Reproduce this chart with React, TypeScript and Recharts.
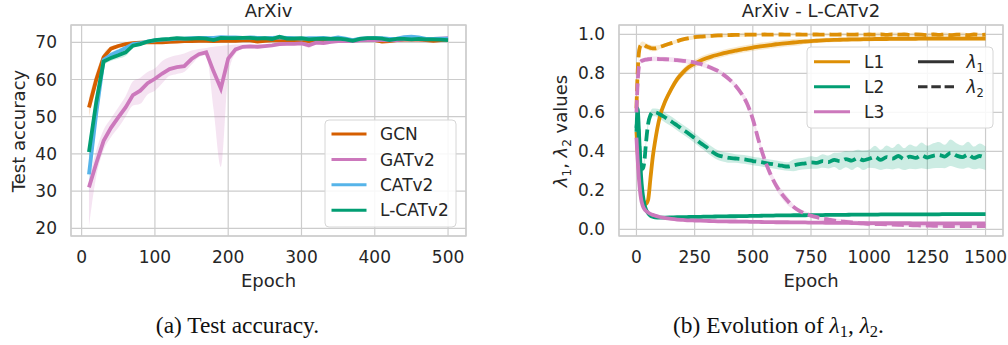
import React from "react"
import {
  ComposedChart,
  Line,
  Area,
  XAxis,
  YAxis,
  CartesianGrid,
  ReferenceArea,
} from "recharts"

// ---- (a) test accuracy, ArXiv ----
const accEpochs = [
  10, 20, 30, 40, 50, 60, 70, 80, 90, 100, 110, 120, 130, 140, 150, 160, 170, 180, 190, 200,
  210, 220, 230, 240, 250, 260, 270, 280, 290, 300, 310, 320, 330, 340, 350, 360, 370, 380, 390, 400,
  410, 420, 430, 440, 450, 460, 470, 480, 490, 500,
]
const gcnAcc = [
  52.5, 60, 66, 68.3, 69, 69.5, 69.8, 69.9, 70, 70,
  70, 70.1, 70.2, 70.3, 70.3, 70.4, 70.4, 70.3, 70.4, 70.4,
  70.4, 70.5, 70.5, 70.2, 70.4, 70.5, 70.6, 70.5, 70.6, 70.6,
  70.3, 70.5, 70.6, 70.6, 70.7, 70.6, 70.5, 70.7, 70.7, 70.6,
  70.2, 70.3, 70.6, 70.7, 70.8, 70.7, 70.6, 70.4, 70.6, 70.7,
]
const gcnSpread = [
  2.5, 2, 1, 0.6, 0.5, 0.4, 0.35, 0.3, 0.3, 0.3,
  0.3, 0.3, 0.3, 0.3, 0.3, 0.3, 0.3, 0.3, 0.3, 0.3,
  0.3, 0.3, 0.3, 0.3, 0.3, 0.3, 0.3, 0.3, 0.3, 0.3,
  0.3, 0.3, 0.3, 0.3, 0.3, 0.3, 0.3, 0.3, 0.3, 0.3,
  0.3, 0.3, 0.3, 0.3, 0.3, 0.3, 0.3, 0.3, 0.3, 0.3,
]
const gatAcc = [
  31, 37.5, 43.5, 47, 49.8, 52.5, 55.8, 57, 59, 60.2,
  61.6, 62.8, 63.3, 63.6, 65.5, 66.8, 67.3, 62.2, 57.6, 65.6,
  68.1, 68.8, 68.9, 68.8, 69.0, 69.2, 69.5, 69.6, 69.6, 69.7,
  69.2, 69.9, 69.8, 70.1, 70.3, 70.3, 70.3, 70.5, 70.6, 70.6,
  70.6, 70.5, 70.6, 70.8, 70.8, 70.8, 70.8, 70.9, 71.0, 71.1,
]
const gatLow = [
  20.5, 34, 41, 44.5, 47, 50, 53, 53.5, 56, 57,
  59, 61, 61.5, 62, 64, 66, 66.5, 52, 36.5, 61,
  67, 68.2, 68.4, 68.3, 68.6, 68.8, 69.1, 69.2, 69.2, 69.3,
  68.5, 69.5, 69.3, 69.7, 69.9, 69.9, 69.9, 70.1, 70.2, 70.2,
  70.2, 70.1, 70.2, 70.4, 70.4, 70.4, 70.4, 70.5, 70.6, 70.7,
]
const gatHigh = [
  33, 41, 46.5, 49.5, 52.5, 55.5, 59.5, 60.5, 62, 63,
  65, 66, 66.5, 67, 67.8, 68.2, 68.5, 68.8, 69, 69.2,
  69.4, 69.4, 69.4, 69.3, 69.4, 69.6, 69.9, 70, 70, 70.1,
  69.9, 70.3, 70.3, 70.5, 70.7, 70.7, 70.7, 70.9, 71, 71,
  71, 70.9, 71, 71.2, 71.2, 71.2, 71.2, 71.3, 71.4, 71.5,
]
const catAcc = [
  34.5, 51, 65.3, 66.6, 67.5, 68.5, 69.5, 69.8, 70.2, 70.5,
  70.7, 70.8, 71.0, 71.0, 71.1, 71.2, 71.2, 71.2, 71.4, 71.3,
  71.3, 71.2, 71.3, 71.2, 71.1, 71.2, 71.3, 71.2, 71.1, 71.0,
  71.1, 71.1, 71.2, 71.0, 71.3, 71.0, 70.6, 71.0, 71.1, 71.2,
  71.1, 70.9, 71.0, 71.4, 71.5, 71.3, 70.9, 70.9, 71.0, 71.0,
]
const catSpread = [
  5, 3, 1, 0.8, 0.7, 0.6, 0.5, 0.4, 0.3, 0.3,
  0.3, 0.3, 0.3, 0.3, 0.3, 0.3, 0.3, 0.3, 0.3, 0.3,
  0.3, 0.3, 0.3, 0.3, 0.3, 0.3, 0.3, 0.3, 0.3, 0.3,
  0.3, 0.3, 0.3, 0.3, 0.3, 0.3, 0.4, 0.3, 0.3, 0.3,
  0.3, 0.3, 0.3, 0.3, 0.3, 0.3, 0.3, 0.3, 0.3, 0.3,
]
const lcatAcc = [
  40.5, 54, 64.8, 65.8, 66.5, 67.3, 69.1, 69.5, 70.2, 70.6,
  70.8, 70.9, 71.1, 71.0, 71.0, 71.1, 71.0, 70.6, 71.2, 71.1,
  71.1, 71.2, 71.2, 71.0, 71.1, 70.9, 71.5, 71.0, 71.0, 71.1,
  70.8, 70.9, 71.0, 70.9, 71.0, 70.8, 70.4, 70.9, 71.1, 71.1,
  71.0, 70.6, 70.9, 70.9, 70.8, 70.9, 70.8, 70.8, 70.7, 70.6,
]
const lcatSpread = [
  3, 2, 1, 0.8, 0.9, 1, 0.6, 0.4, 0.3, 0.3,
  0.3, 0.3, 0.3, 0.3, 0.3, 0.3, 0.3, 0.3, 0.3, 0.3,
  0.3, 0.3, 0.3, 0.3, 0.3, 0.3, 0.3, 0.3, 0.3, 0.3,
  0.3, 0.3, 0.3, 0.3, 0.3, 0.3, 0.4, 0.3, 0.3, 0.3,
  0.3, 0.3, 0.3, 0.3, 0.3, 0.3, 0.3, 0.3, 0.3, 0.3,
]
const accXTicks = [0, 100, 200, 300, 400, 500]
const accYTicks = [20, 30, 40, 50, 60, 70]

// ---- (b) lambda evolution, L-CATv2 ----
const lamEpochs = [
  0, 5, 10, 15, 20, 25, 30, 35, 40, 50, 60, 70, 80,
  100, 125, 150, 175, 200, 225, 250, 275, 300, 325, 350, 375, 400, 425, 450, 475, 500,
  525, 550, 575, 600, 625, 650, 675, 700, 725, 750, 775, 800, 825, 850, 875, 900, 925, 950, 975, 1000,
  1025, 1050, 1075, 1100, 1125, 1150, 1175, 1200, 1225, 1250, 1275, 1300, 1325, 1350, 1375, 1400, 1425, 1450, 1475, 1500,
]
const l1Lam1 = [
  0.5, 0.4, 0.31, 0.24, 0.19, 0.16, 0.145, 0.135, 0.13, 0.15, 0.26, 0.37, 0.45,
  0.575, 0.66, 0.72, 0.77, 0.805, 0.832, 0.85, 0.865, 0.877, 0.887, 0.895, 0.903, 0.91, 0.916, 0.922, 0.927, 0.932,
  0.937, 0.941, 0.945, 0.949, 0.952, 0.955, 0.958, 0.961, 0.963, 0.965, 0.967, 0.969, 0.97, 0.971, 0.972, 0.973, 0.974, 0.974, 0.975, 0.975,
  0.976, 0.976, 0.976, 0.977, 0.977, 0.977, 0.977, 0.977, 0.978, 0.978, 0.978, 0.978, 0.978, 0.978, 0.978, 0.978, 0.978, 0.978, 0.978, 0.978,
]
const l1Lam1Spread = [
  0.01, 0.01, 0.01, 0.01, 0.01, 0.01, 0.01, 0.01, 0.01, 0.012, 0.015, 0.018, 0.02,
  0.02, 0.02, 0.02, 0.02, 0.02, 0.02, 0.02, 0.02, 0.02, 0.018, 0.018, 0.018, 0.018, 0.018, 0.018, 0.018, 0.018,
  0.018, 0.018, 0.018, 0.018, 0.018, 0.018, 0.018, 0.018, 0.012, 0.012, 0.012, 0.012, 0.012, 0.012, 0.012, 0.012, 0.012, 0.012, 0.012, 0.012,
  0.01, 0.01, 0.01, 0.01, 0.01, 0.01, 0.01, 0.01, 0.01, 0.01, 0.01, 0.01, 0.01, 0.01, 0.01, 0.01, 0.01, 0.01, 0.01, 0.01,
]
const l1Lam2 = [
  0.62, 0.8, 0.9, 0.935, 0.945, 0.948, 0.947, 0.944, 0.94, 0.935, 0.93, 0.928, 0.928,
  0.935, 0.945, 0.955, 0.965, 0.974, 0.98, 0.985, 0.988, 0.99, 0.992, 0.994, 0.995, 0.996, 0.997, 0.997, 0.998, 0.998,
  0.998, 0.999, 0.998, 0.999, 0.999, 0.998, 0.999, 0.999, 0.998, 0.999, 0.999, 0.998, 0.999, 0.998, 0.999, 0.999, 0.998, 0.999, 0.998, 0.999,
  0.998, 0.999, 0.997, 0.999, 0.998, 0.999, 0.997, 0.999, 0.998, 0.996, 0.999, 0.997, 0.999, 0.996, 0.998, 0.999, 0.996, 0.999, 0.997, 0.998,
]
const l1Lam2Spread = [
  0.015, 0.015, 0.015, 0.015, 0.015, 0.015, 0.015, 0.015, 0.015, 0.015, 0.015, 0.015, 0.015,
  0.01, 0.01, 0.01, 0.01, 0.01, 0.01, 0.01, 0.01, 0.01, 0.01, 0.01, 0.01, 0.01, 0.01, 0.01, 0.01, 0.01,
  0.006, 0.006, 0.006, 0.006, 0.006, 0.006, 0.006, 0.006, 0.006, 0.006, 0.006, 0.006, 0.006, 0.006, 0.006, 0.006, 0.006, 0.006, 0.006, 0.006,
  0.01, 0.01, 0.01, 0.01, 0.01, 0.01, 0.01, 0.01, 0.01, 0.01, 0.01, 0.01, 0.01, 0.01, 0.01, 0.01, 0.01, 0.01, 0.01, 0.01,
]
const l2Lam1 = [
  0.5, 0.62, 0.52, 0.38, 0.27, 0.2, 0.155, 0.125, 0.105, 0.082, 0.07, 0.064, 0.061,
  0.06, 0.06, 0.061, 0.062, 0.062, 0.063, 0.064, 0.064, 0.065, 0.065, 0.066, 0.066, 0.067, 0.067, 0.068, 0.068, 0.069,
  0.069, 0.07, 0.07, 0.071, 0.071, 0.071, 0.072, 0.072, 0.072, 0.073, 0.073, 0.073, 0.074, 0.074, 0.074, 0.074, 0.075, 0.075, 0.075, 0.075,
  0.075, 0.076, 0.076, 0.076, 0.076, 0.076, 0.077, 0.077, 0.077, 0.077, 0.077, 0.077, 0.078, 0.078, 0.078, 0.078, 0.078, 0.078, 0.078, 0.078,
]
const l2Lam2 = [
  0.52, 0.56, 0.47, 0.38, 0.33, 0.31, 0.32, 0.36, 0.43, 0.54, 0.585, 0.6, 0.6,
  0.59, 0.572, 0.553, 0.532, 0.511, 0.49, 0.467, 0.443, 0.422, 0.398, 0.38, 0.372, 0.366, 0.363, 0.36, 0.356, 0.35,
  0.346, 0.341, 0.336, 0.331, 0.326, 0.322, 0.328, 0.334, 0.338, 0.343, 0.341, 0.35, 0.345, 0.356, 0.349, 0.36, 0.352, 0.364, 0.354, 0.362,
  0.371, 0.356, 0.37, 0.362, 0.376, 0.36, 0.373, 0.366, 0.379, 0.368, 0.377, 0.381, 0.373, 0.392, 0.378, 0.37, 0.383, 0.366, 0.376, 0.364,
]
const l2Lam2Spread = [
  0.02, 0.02, 0.02, 0.02, 0.02, 0.02, 0.02, 0.02, 0.02, 0.02, 0.02, 0.02, 0.02,
  0.025, 0.025, 0.025, 0.025, 0.025, 0.025, 0.025, 0.025, 0.025, 0.025, 0.025, 0.025, 0.025, 0.022, 0.022, 0.022, 0.022,
  0.022, 0.022, 0.022, 0.022, 0.022, 0.022, 0.03, 0.03, 0.03, 0.032, 0.03, 0.035, 0.033, 0.036, 0.045, 0.042, 0.048, 0.044, 0.05, 0.046,
  0.058, 0.052, 0.06, 0.055, 0.063, 0.056, 0.062, 0.058, 0.066, 0.06, 0.064, 0.067, 0.06, 0.068, 0.063, 0.06, 0.066, 0.058, 0.064, 0.06,
]
const l3Lam1 = [
  0.47, 0.36, 0.27, 0.2, 0.155, 0.128, 0.112, 0.102, 0.095, 0.086, 0.079, 0.074, 0.07,
  0.063, 0.057, 0.053, 0.05, 0.048, 0.046, 0.045, 0.044, 0.043, 0.042, 0.041, 0.041, 0.04, 0.04, 0.039, 0.039, 0.038,
  0.038, 0.037, 0.037, 0.036, 0.036, 0.036, 0.035, 0.035, 0.035, 0.034, 0.034, 0.034, 0.033, 0.033, 0.033, 0.033, 0.032, 0.032, 0.032, 0.032,
  0.032, 0.031, 0.031, 0.031, 0.031, 0.031, 0.031, 0.03, 0.03, 0.03, 0.03, 0.03, 0.03, 0.03, 0.03, 0.03, 0.03, 0.03, 0.03, 0.03,
]
const l3Lam2 = [
  0.6, 0.75, 0.83, 0.855, 0.862, 0.865, 0.867, 0.869, 0.87, 0.872, 0.873, 0.874, 0.874,
  0.873, 0.872, 0.87, 0.867, 0.864, 0.86, 0.855, 0.848, 0.838, 0.826, 0.812, 0.792, 0.768, 0.738, 0.698, 0.645, 0.565,
  0.455, 0.36, 0.285, 0.225, 0.18, 0.145, 0.115, 0.095, 0.08, 0.07, 0.062, 0.055, 0.05, 0.045, 0.041, 0.038, 0.035, 0.032, 0.03, 0.028,
  0.027, 0.026, 0.025, 0.024, 0.023, 0.022, 0.021, 0.02, 0.019, 0.019, 0.018, 0.018, 0.017, 0.017, 0.017, 0.017, 0.016, 0.016, 0.016, 0.016,
]
const l3Lam2Spread = [
  0.012, 0.012, 0.012, 0.012, 0.012, 0.012, 0.012, 0.012, 0.012, 0.012, 0.012, 0.012, 0.012,
  0.012, 0.012, 0.012, 0.012, 0.012, 0.012, 0.012, 0.012, 0.012, 0.012, 0.012, 0.012, 0.012, 0.012, 0.012, 0.022, 0.022,
  0.022, 0.022, 0.022, 0.022, 0.022, 0.022, 0.012, 0.012, 0.012, 0.012, 0.012, 0.012, 0.012, 0.012, 0.012, 0.012, 0.012, 0.012, 0.012, 0.012,
  0.008, 0.008, 0.008, 0.008, 0.008, 0.008, 0.008, 0.008, 0.008, 0.008, 0.008, 0.008, 0.008, 0.008, 0.008, 0.008, 0.008, 0.008, 0.008, 0.008,
]
const lamXTicks = [0, 250, 500, 750, 1000, 1250, 1500]
const lamYTicks = [0, 0.2, 0.4, 0.6, 0.8, 1.0]

const COLORS = {
  gcn: "#d55e00",
  gat: "#cc78bc",
  cat: "#56b4e9",
  lcat: "#029e73",
  l1: "#de8f05",
  l2: "#029e73",
  l3: "#cc78bc",
}

const accData = accEpochs.map((epoch, i) => ({
  epoch,
  gcn: gcnAcc[i],
  gcnBand: [gcnAcc[i] - gcnSpread[i], gcnAcc[i] + gcnSpread[i]],
  gat: gatAcc[i],
  gatBand: [gatLow[i], gatHigh[i]],
  cat: catAcc[i],
  catBand: [catAcc[i] - catSpread[i], catAcc[i] + catSpread[i]],
  lcat: lcatAcc[i],
  lcatBand: [lcatAcc[i] - lcatSpread[i], lcatAcc[i] + lcatSpread[i]],
}))

const lamData = lamEpochs.map((epoch, i) => ({
  epoch,
  l1a: l1Lam1[i],
  l1aBand: [l1Lam1[i] - l1Lam1Spread[i], l1Lam1[i] + l1Lam1Spread[i]],
  l1b: l1Lam2[i],
  l1bBand: [l1Lam2[i] - l1Lam2Spread[i], l1Lam2[i] + l1Lam2Spread[i]],
  l2a: l2Lam1[i],
  l2b: l2Lam2[i],
  l2bBand: [l2Lam2[i] - l2Lam2Spread[i], l2Lam2[i] + l2Lam2Spread[i]],
  l3a: l3Lam1[i],
  l3b: l3Lam2[i],
  l3bBand: [l3Lam2[i] - l3Lam2Spread[i], l3Lam2[i] + l3Lam2Spread[i]],
}))

const FONT = "'DejaVu Sans', sans-serif"
const TEXT = "#262626"
const tickStyle = { fill: TEXT, fontSize: 17, fontFamily: FONT }
const DASH = "12 5"
const LW = 3.8

function band(key: string, color: string) {
  return (
    <Area
      dataKey={key}
      type="monotone"
      stroke="none"
      fill={color}
      fillOpacity={0.2}
      dot={false}
      activeDot={false}
      isAnimationActive={false}
    />
  )
}

function line(key: string, color: string, kind: "linear" | "monotone", dashed = false) {
  return (
    <Line
      dataKey={key}
      type={kind}
      stroke={color}
      strokeWidth={LW}
      strokeDasharray={dashed ? DASH : undefined}
      dot={false}
      activeDot={false}
      isAnimationActive={false}
    />
  )
}

function AccuracyChart() {
  return (
    <ComposedChart
      width={504}
      height={290}
      data={accData}
      margin={{ top: 25, right: 38, left: 31, bottom: 24 }}
    >
      <CartesianGrid stroke="#cccccc" strokeWidth={1.2} />
      <XAxis
        type="number"
        dataKey="epoch"
        domain={[-14.5, 524.5]}
        ticks={accXTicks}
        interval={0}
        allowDataOverflow
        axisLine={false}
        tickLine={false}
        tickSize={0}
        tickMargin={15}
        height={30}
        tick={tickStyle}
      />
      <YAxis
        type="number"
        domain={[17.93, 74.65]}
        ticks={accYTicks}
        interval={0}
        allowDataOverflow
        axisLine={false}
        tickLine={false}
        tickSize={0}
        tickMargin={14}
        width={40}
        tick={tickStyle}
      />
      <ReferenceArea x1={-14.5} x2={524.5} y1={17.93} y2={74.65} fill="none" stroke="#cccccc" strokeWidth={1.3} />
      {band("gcnBand", COLORS.gcn)}
      {band("gatBand", COLORS.gat)}
      {band("catBand", COLORS.cat)}
      {band("lcatBand", COLORS.lcat)}
      {line("gcn", COLORS.gcn, "linear")}
      {line("gat", COLORS.gat, "linear")}
      {line("cat", COLORS.cat, "linear")}
      {line("lcat", COLORS.lcat, "linear")}
    </ComposedChart>
  )
}

function LambdaChart() {
  return (
    <ComposedChart
      width={504}
      height={290}
      data={lamData}
      margin={{ top: 25, right: 5, left: 65, bottom: 24 }}
    >
      <CartesianGrid stroke="#cccccc" strokeWidth={1.2} />
      <XAxis
        type="number"
        dataKey="epoch"
        domain={[-75, 1575]}
        ticks={lamXTicks}
        interval={0}
        allowDataOverflow
        axisLine={false}
        tickLine={false}
        tickSize={0}
        tickMargin={15}
        height={30}
        tick={tickStyle}
      />
      <YAxis
        type="number"
        domain={[-0.0344, 1.0477]}
        ticks={lamYTicks}
        interval={0}
        allowDataOverflow
        axisLine={false}
        tickLine={false}
        tickSize={0}
        tickMargin={14}
        width={50}
        tick={tickStyle}
        tickFormatter={(v: number) => v.toFixed(1)}
      />
      <ReferenceArea x1={-75} x2={1575} y1={-0.0344} y2={1.0477} fill="none" stroke="#cccccc" strokeWidth={1.3} />
      {band("l1aBand", COLORS.l1)}
      {band("l1bBand", COLORS.l1)}
      {band("l2bBand", COLORS.l2)}
      {band("l3bBand", COLORS.l3)}
      {line("l1a", COLORS.l1, "monotone")}
      {line("l1b", COLORS.l1, "monotone", true)}
      {line("l2a", COLORS.l2, "monotone")}
      {line("l2b", COLORS.l2, "monotone", true)}
      {line("l3a", COLORS.l3, "monotone")}
      {line("l3b", COLORS.l3, "monotone", true)}
    </ComposedChart>
  )
}

const accLegend = [
  { name: "GCN", color: COLORS.gcn },
  { name: "GATv2", color: COLORS.gat },
  { name: "CATv2", color: COLORS.cat },
  { name: "L-CATv2", color: COLORS.lcat },
]
const layerLegend = [
  { name: "L1", color: COLORS.l1 },
  { name: "L2", color: COLORS.l2 },
  { name: "L3", color: COLORS.l3 },
]

function Overlay() {
  return (
    <svg
      width={1008}
      height={345}
      style={{ position: "absolute", left: 0, top: 0, pointerEvents: "none" }}
      fontFamily={FONT}
      fill={TEXT}
    >
      {/* titles and axis labels */}
      <text x={268.5} y={17} fontSize={18} textAnchor="middle">ArXiv</text>
      <text x={268.5} y={286.5} fontSize={18} textAnchor="middle">Epoch</text>
      <text transform="translate(24.5,131) rotate(-90)" fontSize={18} textAnchor="middle">Test accuracy</text>

      <text x={811} y={17} fontSize={18} textAnchor="middle">ArXiv - L-CATv2</text>
      <text x={811} y={286.5} fontSize={18} textAnchor="middle">Epoch</text>
      <text transform="translate(567,131) rotate(-90)" fontSize={18} textAnchor="middle">
        <tspan fontStyle="italic">λ</tspan>
        <tspan fontSize={12} dy={4}>1</tspan>
        <tspan dy={-4}>, </tspan>
        <tspan fontStyle="italic">λ</tspan>
        <tspan fontSize={12} dy={4}>2</tspan>
        <tspan dy={-4}> values</tspan>
      </text>

      {/* legend (a) */}
      <rect x={325} y={120} width={131} height={107} rx={4} fill="#ffffff" fillOpacity={0.85} stroke="#d6d6d6" strokeWidth={1} />
      {accLegend.map((d, i) => {
        const y = 134 + i * 25.4
        return (
          <g key={d.name}>
            <line x1={331.5} x2={366.5} y1={y} y2={y} stroke={d.color} strokeWidth={3} />
            <text x={380} y={y + 6.2} fontSize={17}>{d.name}</text>
          </g>
        )
      })}

      {/* legend (b) */}
      <rect x={807} y={47} width={186} height={81} rx={4} fill="#ffffff" fillOpacity={0.85} stroke="#d6d6d6" strokeWidth={1} />
      {layerLegend.map((d, i) => {
        const y = 61.7 + i * 25
        return (
          <g key={d.name}>
            <line x1={814} x2={850} y1={y} y2={y} stroke={d.color} strokeWidth={3} />
            <text x={864} y={y + 6.2} fontSize={17}>{d.name}</text>
          </g>
        )
      })}
      <line x1={918} x2={954} y1={61.7} y2={61.7} stroke="#333333" strokeWidth={3} />
      <text x={966.5} y={67.5} fontSize={17}>
        <tspan fontStyle="italic">λ</tspan>
        <tspan fontSize={11.5} dy={4}>1</tspan>
      </text>
      <line x1={918} x2={954} y1={86.7} y2={86.7} stroke="#333333" strokeWidth={3} strokeDasharray="9.5 3.8" />
      <text x={966.5} y={92.5} fontSize={17}>
        <tspan fontStyle="italic">λ</tspan>
        <tspan fontSize={11.5} dy={4}>2</tspan>
      </text>

      {/* captions */}
      <g fontFamily="'Liberation Serif', 'Times New Roman', serif" fill="#111111" fontSize={23.4}>
        <text x={237.5} y={333} textAnchor="middle">(a) Test accuracy.</text>
        <text x={778.5} y={333} textAnchor="middle">
          <tspan>(b) Evolution of </tspan>
          <tspan fontStyle="italic">λ</tspan>
          <tspan fontSize={16.5} dy={4}>1</tspan>
          <tspan dy={-4}>, </tspan>
          <tspan fontStyle="italic">λ</tspan>
          <tspan fontSize={16.5} dy={4}>2</tspan>
          <tspan dy={-4}>.</tspan>
        </text>
      </g>
    </svg>
  )
}

export default function App() {
  return (
    <div style={{ position: "relative", width: 1008, height: 345, background: "#ffffff", fontFamily: FONT }}>
      <style>{"body{margin:0;}"}</style>
      <div style={{ position: "absolute", left: 0, top: 0 }}>
        <AccuracyChart />
      </div>
      <div style={{ position: "absolute", left: 504, top: 0 }}>
        <LambdaChart />
      </div>
      <Overlay />
    </div>
  )
}
